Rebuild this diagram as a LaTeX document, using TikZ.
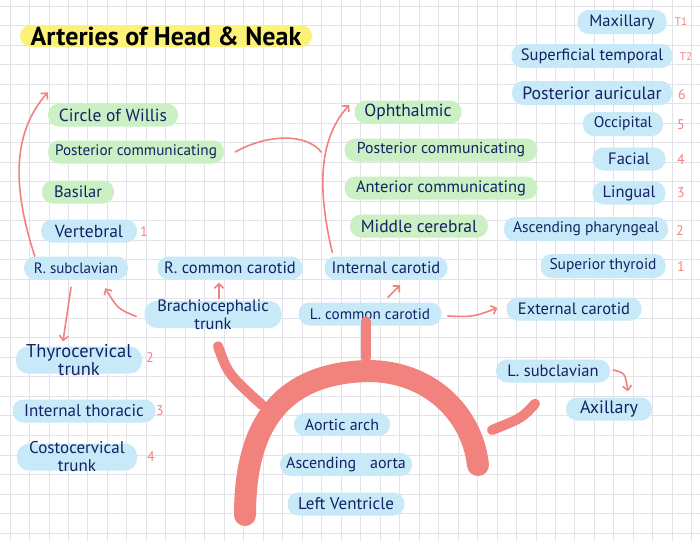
\documentclass[tikz,border=0pt]{standalone}
\usepackage{fontspec}
\setmainfont{PT Sans}
\usetikzlibrary{arrows.meta}
\definecolor{pillblue}{RGB}{200,234,248}
\definecolor{pillgreen}{RGB}{202,240,196}
\definecolor{hl}{RGB}{253,242,120}
\definecolor{ink}{RGB}{18,34,100}
\definecolor{artred}{RGB}{242,130,126}
\definecolor{gridc}{RGB}{226,226,232}
\newcommand{\fsz}[1]{\fontsize{#1}{18}\selectfont}
\begin{document}
\begin{tikzpicture}[x=1pt,y=-1pt,
  pill/.style={fill=pillblue, rounded corners=11pt, inner sep=0pt, minimum height=23pt,
    text=ink, font=\fsz{16.5}, align=center},
  gpill/.style={pill, fill=pillgreen},
  twoline/.style={minimum height=27pt, inner ysep=-4pt, rounded corners=12pt},
  num/.style={text=artred, font=\fontsize{14}{14}\selectfont, inner sep=0pt},
  tnum/.style={num, font=\fontsize{11}{11}\selectfont},
  arr/.style={draw=artred, line width=1.6pt, line cap=round, -{Straight Barb[length=4.5pt,width=9pt]}},
  link/.style={draw=artred, line width=1.6pt, line cap=round},
  vessel/.style={draw=artred, line width=22pt, line cap=round},
  branchline/.style={draw=artred, line width=10pt, line cap=round}]
\useasboundingbox (0,0) rectangle (700,541);
\fill[white] (0,0) rectangle (700,541);
\foreach \i in {0,...,35} \draw[gridc, line width=0.9pt] ({10+19.48*\i},0) -- ({10+19.48*\i},541);
\foreach \i in {0,...,27} \draw[gridc, line width=0.9pt] (0,{6+19.52*\i}) -- (700,{6+19.52*\i});

% title
\node[fill=hl, rounded corners=11pt, minimum width=292pt, minimum height=22pt, inner sep=0pt,
  font=\bfseries\fontsize{26}{26}\selectfont] (title) at (166,36) {Arteries of Head \& Neak};

% aorta
\draw[vessel] (245,515) .. controls (245,420) and (285,373) .. (368,371)
  .. controls (428,371) and (472,412) .. (478,465);
\coordinate (archL) at (262,405);
\coordinate (archT) at (366,358);
\coordinate (archR) at (492,430);

% left column
\node[gpill, minimum width=130pt, font=\fsz{17.5}] (willis) at (113,115) {Circle of Willis};
\node[gpill, minimum width=176pt, font=\fsz{15.2}] (pcomL) at (136,152) {Posterior communicating};
\node[gpill, minimum width=72pt] (basilar) at (78,192) {Basilar};
\node[pill, minimum width=96pt, font=\fsz{17.5}] (vert) at (89,231) {Vertebral};
\node[pill, minimum width=104pt, font=\fsz{15}] (rsub) at (76,268) {R. subclavian};
\node[pill, minimum width=145pt] (rcc) at (230,268) {R. common carotid};
\node[pill, minimum width=123pt] (intc) at (386,268) {Internal carotid};
\node[pill, twoline, minimum width=137pt] (brach) at (213,314.5) {Brachiocephalic\\trunk};
\node[pill, minimum width=143pt, font=\fsz{15.2}] (lcc) at (370,314) {L. common carotid};
\node[pill, minimum width=135pt] (ext) at (574,309) {External carotid};
\node[pill, twoline, minimum width=126pt, font=\fsz{18.5}] (thyro) at (79,360) {Thyrocervical\\trunk};
\node[pill, minimum width=143pt, font=\fsz{17}] (intth) at (84,411) {Internal thoracic};
\node[pill, twoline, minimum width=120pt, font=\fsz{17}] (costo) at (77,457) {Costocervical\\trunk};

% middle column
\node[gpill, minimum width=107pt, font=\fsz{17.5}] (oph) at (408,112) {Ophthalmic};
\node[gpill, minimum width=193pt, font=\fsz{15.8}] (pcomR) at (441,150) {Posterior communicating};
\node[gpill, minimum width=193pt] (acom) at (441,188) {Anterior communicating};
\node[gpill, minimum width=138pt, font=\fsz{17.5}] (mcer) at (419,226) {Middle cerebral};

% right column
\node[pill, minimum width=89pt, minimum height=24pt] (maxi) at (622,22) {Maxillary};
\node[pill, minimum width=161pt, minimum height=24pt, font=\fsz{16.5}] (supt) at (592,56) {Superficial temporal};
\node[pill, minimum width=160pt, minimum height=24pt, font=\fsz{17.8}] (posta) at (592,93) {Posterior auricular};
\node[pill, minimum width=80pt, minimum height=24pt, font=\fsz{15.5}] (occ) at (623,124) {Occipital};
\node[pill, minimum width=73pt] (fac) at (629,159) {Facial};
\node[pill, minimum width=73pt] (ling) at (629,193) {Lingual};
\node[pill, minimum width=164pt, minimum height=24pt, font=\fsz{15.5}] (ascph) at (586,229) {Ascending pharyngeal};
\node[pill, minimum width=125pt, minimum height=24pt, font=\fsz{15.5}] (supth) at (603,266) {Superior thyroid};
\node[pill, minimum width=114pt] (lsub) at (553,371) {L. subclavian};
\node[pill, minimum width=86pt, font=\fsz{18}] (axil) at (609,409) {Axillary};

% aorta labels
\node[pill, minimum width=96pt, font=\fsz{16}] (aarch) at (342,424.5) {Aortic arch};
\node[pill, minimum width=132pt, font=\fsz{16}] (ascao) at (346,464.5) {Ascending\hspace{0.6em} aorta};
\node[pill, minimum width=117pt, font=\fsz{17}] (lv) at (346,504) {Left Ventricle};

% numbers
\node[num] (nv1) at (144,232) {1};
\node[tnum] (nt1) at (681,22) {T1};
\node[tnum] (nt2) at (686,57) {T2};
\node[num] (n6) at (682,95) {6};
\node[num] (n5) at (681,125) {5};
\node[num] (n4) at (681,160) {4};
\node[num] (n3) at (681,193) {3};
\node[num] (n2) at (680,231) {2};
\node[num] (n1) at (681,267) {1};
\node[num] (ns2) at (150,358) {2};
\node[num] (ns3) at (160,411) {3};
\node[num] (ns4) at (151,457) {4};

% thick branches
\draw[branchline] ([xshift=5pt,yshift=-18pt]brach.south) .. controls (228,374) .. (archL);
\draw[branchline] ([xshift=-4pt,yshift=-19pt]lcc.north) -- (archT);
\draw[branchline] ([xshift=-18pt,yshift=-21pt]lsub.south) .. controls (522,418) .. (archR);

% thin arrows
\draw[arr] ([xshift=11pt]rsub.north west) .. controls (10,180) and (15,130) .. ([yshift=11pt]willis.north west);
\draw[arr] ([xshift=8pt,yshift=4pt]intc.north west) .. controls (315,180) and (322,135) .. ([xshift=-5pt,yshift=7pt]oph.west);
\draw[link] ([xshift=11pt]pcomL.east) .. controls (265,135) and (305,132) .. ([xshift=-23pt,yshift=-2pt]pcomR.west);
\draw[arr] ([xshift=-5pt,yshift=-7.5pt]rsub.south) -- ([xshift=-16pt,yshift=5pt]thyro.north);
\draw[arr] ([xshift=-8pt,yshift=-2pt]brach.west) .. controls (118,309) .. ([xshift=-23pt,yshift=-8.5pt]rsub.south east);
\draw[arr] ([xshift=6pt,yshift=2pt]brach.north) -- ([xshift=-11pt,yshift=-3pt]rcc.south);
\draw[arr] ([xshift=18pt,yshift=5pt]lcc.north) -- ([xshift=14pt,yshift=-5.5pt]intc.south);
\draw[arr] ([xshift=6pt,yshift=-2pt]lcc.east) .. controls (473,317) .. ([xshift=-9pt,yshift=1pt]ext.west);
\draw[arr] ([xshift=3pt,yshift=1pt]lsub.east) .. controls (625,373) .. ([xshift=19pt,yshift=6pt]axil.north);
\end{tikzpicture}
\end{document}
